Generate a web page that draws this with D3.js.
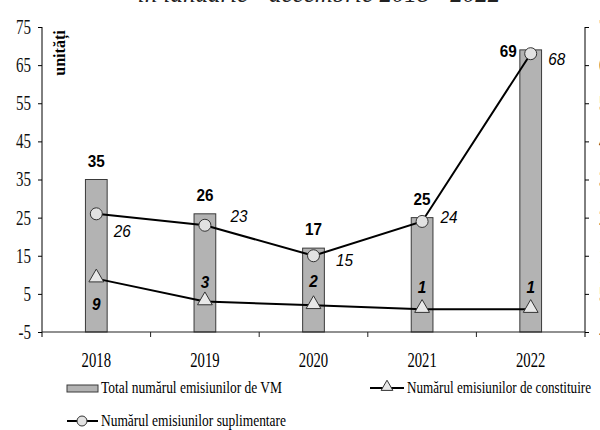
<!DOCTYPE html>
<html>
<head>
<meta charset="utf-8">
<script src="https://cdn.jsdelivr.net/npm/d3@7/dist/d3.min.js"></script>
<style>
  body { margin: 0; background: #fff; }
  svg { display: block; }
  .serif { font-family: "Liberation Serif", "Times New Roman", "DejaVu Serif", serif; }
  .sans { font-family: "Liberation Sans", Arial, sans-serif; }
</style>
</head>
<body>
<div id="chart"></div>
<script>
// chart data
const years = ["2018", "2019", "2020", "2021", "2022"];
const totalIssues = [35, 26, 17, 25, 69];
const extraIssues = [26, 23, 15, 24, 68];
const foundIssues = [9, 3, 2, 1, 1];
const yTicks = [-5, 5, 15, 25, 35, 45, 55, 65, 75];

const seriesNames = {
    total: "Total numărul emisiunilor de VM",
    found: "Numărul emisiunilor de constituire",
    extra: "Numărul emisiunilor suplimentare"
};

const WIDTH = 600, HEIGHT = 430;
const margin = {top: 27, right: 15, bottom: 98, left: 42};

// label nudges (dx, dy) per point, to mimic the original placement
const extraLabelPos = [[26, 23], [34, -3], [31, 10], [27, 2], [26, 11]];
const foundLabelPos = [[0, 31], [0, -14], [0, -18], [0, -16], [0, -16]];

let svg = d3.select("#chart")
    .append("svg")
    .attr("width", WIDTH)
    .attr("height", HEIGHT);

let x = d3.scaleBand()
    .domain(years)
    .range([margin.left, WIDTH - margin.right])
    .padding(0);
let y = d3.scaleLinear()
    .domain([-5, 75])
    .range([HEIGHT - margin.bottom, margin.top]);

const barW = x.bandwidth() * 0.2;
const cx = d => x(d) + x.bandwidth() / 2;

/**
 * The original's serif text is tall and narrow, squeeze it horizontally
 */
function squeeze(sel, sx) {
    sel.each(function() {
        let t = d3.select(this);
        let tx = +t.attr("x") || 0, ty = +t.attr("y") || 0;
        t.attr("x", 0).attr("y", 0)
            .attr("transform", `translate(${tx},${ty}) scale(${sx},1)`);
    });
}

// partly visible title cut by the top edge
svg.append("text")
    .attr("class", "serif")
    .attr("x", 319)
    .attr("y", 2)
    .attr("text-anchor", "middle")
    .style("font-style", "italic")
    .style("font-size", "25px")
    .attr("fill", "#222")
    .text("în ianuarie - decembrie 2018 - 2022");

// left axis
let leftAxis = svg.append("g")
    .attr("transform", `translate(${margin.left},0)`)
    .call(d3.axisLeft(y).tickValues(yTicks).tickFormat(d => String(d)).tickSize(4).tickPadding(7));
leftAxis.attr("font-family", null);
leftAxis.select(".domain").attr("d", `M0,${y(75)}V${y(-5) + 5}`);
leftAxis.selectAll("text")
    .attr("class", "serif")
    .style("font-size", "20px")
    .attr("fill", "#111")
    .call(squeeze, 0.75);

// right axis (labels run off the page edge)
let rightAxis = svg.append("g")
    .attr("transform", `translate(${WIDTH - margin.right},0)`)
    .call(d3.axisRight(y).tickValues(yTicks).tickFormat(d => String(d)).tickSize(4).tickPadding(10));
rightAxis.attr("font-family", null);
rightAxis.select(".domain").attr("d", `M0,${y(75)}V${y(-5) + 5}`);
rightAxis.selectAll("text")
    .attr("class", "serif")
    .style("font-size", "20px")
    .attr("fill", "#111")
    .call(squeeze, 0.75);

// y axis title
svg.append("text")
    .attr("class", "serif")
    .attr("transform", `translate(65, 53) rotate(-90)`)
    .attr("text-anchor", "middle")
    .style("font-weight", "bold")
    .style("font-size", "16px")
    .text("unități");

// bars
svg.selectAll("rect.bar")
    .data(years)
    .enter()
    .append("rect")
    .attr("class", "bar")
    .attr("x", d => cx(d) - barW / 2)
    .attr("y", (d, i) => y(totalIssues[i]))
    .attr("width", barW)
    .attr("height", (d, i) => y(-5) - y(totalIssues[i]))
    .attr("fill", "#b3b3b3")
    .attr("stroke", "#3a3a3a")
    .attr("stroke-width", 1);

// x axis line + category ticks between bands
svg.append("line")
    .attr("x1", margin.left).attr("x2", WIDTH - margin.right)
    .attr("y1", y(-5)).attr("y2", y(-5))
    .attr("stroke", "#222").attr("stroke-width", 1.2);
svg.selectAll("line.xtick")
    .data(years.slice(1))
    .enter()
    .append("line")
    .attr("class", "xtick")
    .attr("x1", d => x(d)).attr("x2", d => x(d))
    .attr("y1", y(-5)).attr("y2", y(-5) + 5)
    .attr("stroke", "#222");
svg.selectAll("text.xlab")
    .data(years)
    .enter()
    .append("text")
    .attr("class", "xlab serif")
    .attr("x", d => cx(d))
    .attr("y", y(-5) + 35)
    .attr("text-anchor", "middle")
    .style("font-size", "21px")
    .text(d => d)
    .call(squeeze, 0.7);

// lines
let line = vals => d3.line()
    .x((d, i) => cx(years[i]))
    .y(d => y(d))(vals);

svg.append("path")
    .attr("d", line(extraIssues))
    .attr("fill", "none")
    .attr("stroke", "#000")
    .attr("stroke-width", 2);
svg.append("path")
    .attr("d", line(foundIssues))
    .attr("fill", "none")
    .attr("stroke", "#000")
    .attr("stroke-width", 2);

// markers
let tri = d3.symbol().type(d3.symbolTriangle).size(95);
svg.selectAll("circle.extra")
    .data(extraIssues)
    .enter()
    .append("circle")
    .attr("class", "extra")
    .attr("cx", (d, i) => cx(years[i]))
    .attr("cy", d => y(d))
    .attr("r", 6)
    .attr("fill", "#e2e2e2")
    .attr("stroke", "#333")
    .attr("stroke-width", 1);
svg.selectAll("path.found")
    .data(foundIssues)
    .enter()
    .append("path")
    .attr("class", "found")
    .attr("d", tri)
    .attr("transform", (d, i) => `translate(${cx(years[i])},${y(d) - 1})`)
    .attr("fill", "#e8e8e8")
    .attr("stroke", "#333")
    .attr("stroke-width", 1);

// value labels
svg.selectAll("text.total")
    .data(totalIssues)
    .enter()
    .append("text")
    .attr("class", "total sans")
    .attr("x", (d, i) => i === 4 ? cx(years[i]) - barW / 2 - 3 : cx(years[i]))
    .attr("y", (d, i) => i === 4 ? y(d) + 7 : y(d) - 13)
    .attr("text-anchor", (d, i) => i === 4 ? "end" : "middle")
    .style("font-weight", "bold")
    .style("font-size", "17px")
    .text(d => d)
    .call(squeeze, 0.9);
svg.selectAll("text.extraLab")
    .data(extraIssues)
    .enter()
    .append("text")
    .attr("class", "extraLab sans")
    .attr("x", (d, i) => cx(years[i]) + extraLabelPos[i][0])
    .attr("y", (d, i) => y(d) + extraLabelPos[i][1])
    .attr("text-anchor", "middle")
    .style("font-style", "italic")
    .style("font-size", "17px")
    .text(d => d)
    .call(squeeze, 0.9);
svg.selectAll("text.foundLab")
    .data(foundIssues)
    .enter()
    .append("text")
    .attr("class", "foundLab sans")
    .attr("x", (d, i) => cx(years[i]) + foundLabelPos[i][0])
    .attr("y", (d, i) => y(d) + foundLabelPos[i][1])
    .attr("text-anchor", "middle")
    .style("font-style", "italic")
    .style("font-weight", "bold")
    .style("font-size", "17px")
    .text(d => d)
    .call(squeeze, 0.9);

// legend (text squeezed horizontally like the original)
let legend = svg.append("g").attr("class", "serif").style("font-size", "16px");
legend.append("rect")
    .attr("x", 67).attr("y", 385).attr("width", 31).attr("height", 7)
    .attr("fill", "#b3b3b3").attr("stroke", "#3a3a3a");
legend.append("text").attr("x", 101).attr("y", 393)
    .attr("textLength", 181).attr("lengthAdjust", "spacingAndGlyphs")
    .text(seriesNames.total);

legend.append("line")
    .attr("x1", 370).attr("x2", 404).attr("y1", 388).attr("y2", 388)
    .attr("stroke", "#000").attr("stroke-width", 2);
legend.append("path")
    .attr("d", d3.symbol().type(d3.symbolTriangle).size(60))
    .attr("transform", "translate(387,387)")
    .attr("fill", "#e8e8e8").attr("stroke", "#333");
legend.append("text").attr("x", 407).attr("y", 393)
    .attr("textLength", 184).attr("lengthAdjust", "spacingAndGlyphs")
    .text(seriesNames.found);

legend.append("line")
    .attr("x1", 67).attr("x2", 98).attr("y1", 421).attr("y2", 421)
    .attr("stroke", "#000").attr("stroke-width", 2);
legend.append("circle")
    .attr("cx", 82).attr("cy", 421).attr("r", 5)
    .attr("fill", "#e2e2e2").attr("stroke", "#333");
legend.append("text").attr("x", 101).attr("y", 426)
    .attr("textLength", 185).attr("lengthAdjust", "spacingAndGlyphs")
    .text(seriesNames.extra);
</script>
</body>
</html>
